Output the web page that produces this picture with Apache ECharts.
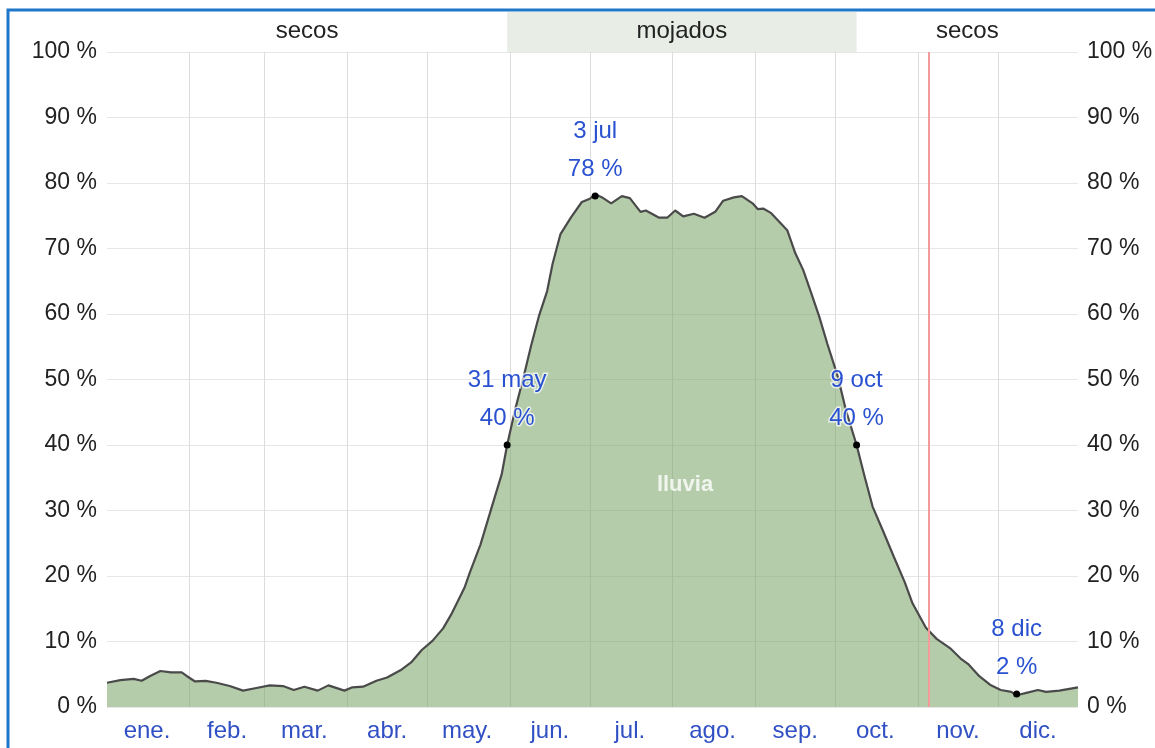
<!DOCTYPE html>
<html>
<head>
<meta charset="utf-8">
<script src="https://cdn.jsdelivr.net/npm/echarts@6/dist/echarts.min.js"></script>
<style>
  html, body { margin: 0; padding: 0; background: #fff; }
  #chart { width: 1155px; height: 748px; }
</style>
</head>
<body>
<div id="chart"></div>
<script>
const FONT = "'Liberation Sans', Arial, sans-serif";

const monthNames = ['ene.', 'feb.', 'mar.', 'abr.', 'may.', 'jun.', 'jul.', 'ago.', 'sep.', 'oct.', 'nov.', 'dic.'];
const monthDays = [31, 28, 31, 30, 31, 30, 31, 31, 30, 31, 30, 31];

// day of year (0 = 1 ene.) and chance of a wet day
const rainDay = [0, 5, 10, 13, 16, 20, 24, 28, 30, 33, 37, 41, 46, 51, 56, 61, 66, 70, 74, 79, 83, 89, 92, 96,
  101, 105, 110, 114, 118, 122, 126, 129, 134, 136, 140, 144, 148, 150, 153, 156, 159, 162, 165, 167, 170,
  174, 178, 181, 183, 186, 189, 193, 196, 200, 202, 207, 210, 213, 216, 220, 224, 228, 231, 235, 238, 242,
  244, 246, 249, 252, 255, 258, 261, 264, 267, 270, 274, 277, 281, 284, 287, 291, 295, 299, 302, 307, 311,
  316, 320, 323, 327, 331, 335, 339, 341, 345, 349, 352, 357, 364];
const rainPct = [3.7, 4.1, 4.3, 4.0, 4.7, 5.5, 5.3, 5.3, 4.7, 3.9, 4.0, 3.7, 3.2, 2.5, 2.9, 3.3, 3.2, 2.6, 3.1, 2.5, 3.3, 2.5, 3.0, 3.1,
  4.0, 4.5, 5.6, 6.8, 8.7, 10.1, 12.0, 14.1, 18.2, 20.5, 24.8, 30.2, 35.6, 40, 45.4, 50.1, 55.2, 59.8, 63.5, 67.6, 72.2,
  74.8, 77.1, 77.6, 78.3, 77.7, 76.9, 78.0, 77.7, 75.6, 75.8, 74.7, 74.7, 75.8, 74.9, 75.3, 74.7, 75.6, 77.3, 77.8, 78.0, 76.9,
  76.0, 76.1, 75.4, 74.1, 72.8, 69.3, 66.7, 63.2, 59.6, 55.5, 50.4, 45.3, 40, 35.2, 30.6, 26.8, 22.9, 19.1, 15.8, 12.1, 10.4,
  9.0, 7.4, 6.5, 4.7, 3.4, 2.6, 2.3, 1.8, 2.2, 2.6, 2.3, 2.5, 3.0];

const seasonNames = ['secos', 'mojados', 'secos'];
const seasonFrom = [0, 150, 281];
const seasonTo = [150, 281, 364];

const noteDay = [150, 183, 281, 341];
const notePct = [40, 78, 40, 2];
const noteText = ['31 may', '3 jul', '9 oct', '8 dic'];

const todayIdx = 308;

// one category per day, used for month grid lines and labels
const dayCats = [];
const monthStart = new Set();
const monthMid = new Set();
monthDays.forEach((n, m) => {
  monthStart.add(dayCats.length);
  monthMid.add(dayCats.length + Math.floor(n / 2));
  for (let d = 1; d <= n; d++) dayCats.push(monthNames[m] + ' ' + d);
});
monthStart.delete(0);

const chart = echarts.init(document.getElementById('chart'));

chart.setOption({
  animation: false,
  textStyle: { fontFamily: FONT },
  graphic: [
    {
      type: 'rect',
      silent: true,
      z: 100,
      shape: { x: 8, y: 10, width: 1300, height: 900 },
      style: { fill: 'none', stroke: '#1f77c9', lineWidth: 3 },
    },
    {
      type: 'text',
      silent: true,
      z: 50,
      style: {
        x: 685, y: 485, text: 'lluvia', align: 'center', verticalAlign: 'middle',
        fill: 'rgba(255,255,255,0.8)', font: 'bold 22px ' + FONT,
      },
    },
  ],
  grid: [
    { left: 107, right: 77, top: 52, bottom: 41, outerBoundsMode: 'none' },
    { left: 107, right: 77, top: 12, height: 40, outerBoundsMode: 'none' },
  ],
  xAxis: [
    {
      type: 'category',
      gridIndex: 0,
      data: dayCats,
      boundaryGap: false,
      axisLine: { show: false },
      axisTick: { show: false },
      axisLabel: {
        interval: (i) => monthMid.has(i),
        formatter: (v) => v.split(' ')[0],
        color: '#3050c4',
        fontSize: 24,
        margin: 12,
      },
      splitLine: {
        show: true,
        interval: (i) => monthStart.has(i),
        lineStyle: { color: '#dcdcdc', width: 1 },
      },
    },
    { type: 'value', gridIndex: 0, min: 0, max: 364, show: false },
    { type: 'value', gridIndex: 1, min: 0, max: 364, show: false },
  ],
  yAxis: [
    {
      type: 'value',
      gridIndex: 0,
      min: 0,
      max: 100,
      interval: 10,
      axisLine: { show: false },
      axisTick: { show: false },
      axisLabel: { formatter: '{value} %', fontSize: 23, color: '#222', margin: 10 },
      splitLine: { lineStyle: { color: '#e6e6e6' } },
    },
    {
      type: 'value',
      gridIndex: 0,
      position: 'right',
      min: 0,
      max: 100,
      interval: 10,
      axisLine: { show: false },
      axisTick: { show: false },
      axisLabel: { formatter: '{value} %', fontSize: 23, color: '#222', margin: 9 },
      splitLine: { show: false },
    },
    { type: 'value', gridIndex: 1, min: 0, max: 1, show: false },
  ],
  series: [
    {
      type: 'custom',
      xAxisIndex: 2,
      yAxisIndex: 2,
      silent: true,
      data: seasonNames.map((s, i) => [seasonFrom[i], seasonTo[i]]),
      renderItem: (params, api) => {
        const a = api.coord([api.value(0), 1]);
        const b = api.coord([api.value(1), 0]);
        const name = seasonNames[params.dataIndex];
        return {
          type: 'group',
          children: [
            {
              type: 'rect',
              shape: { x: a[0], y: a[1], width: b[0] - a[0], height: b[1] - a[1] },
              style: { fill: name === 'mojados' ? '#e8eee6' : 'rgba(0,0,0,0)' },
            },
            {
              type: 'text',
              style: {
                x: (a[0] + b[0]) / 2, y: (a[1] + b[1]) / 2 - 1, text: name,
                align: 'center', verticalAlign: 'middle', fill: '#222', font: '24px ' + FONT,
              },
            },
          ],
        };
      },
    },
    {
      name: 'lluvia',
      type: 'line',
      xAxisIndex: 1,
      yAxisIndex: 0,
      data: rainDay.map((d, i) => [d, rainPct[i]]),
      symbol: 'none',
      lineStyle: { color: '#4a4a4a', width: 2.2 },
      areaStyle: { color: 'rgb(120,163,100)', opacity: 0.55 },
      markLine: {
        silent: true,
        symbol: 'none',
        label: { show: false },
        lineStyle: { color: '#f39b9b', width: 2, type: 'solid', opacity: 1 },
        data: [{ xAxis: todayIdx }],
      },
    },
    {
      type: 'scatter',
      xAxisIndex: 1,
      yAxisIndex: 0,
      symbolSize: 7,
      itemStyle: { color: '#000', opacity: 1 },
      z: 5,
      data: noteDay.map((d, i) => [d, notePct[i]]),
      label: {
        show: true,
        position: 'top',
        distance: 4,
        formatter: (p) => noteText[p.dataIndex] + '\n' + notePct[p.dataIndex] + ' %',
        color: '#2a52d0',
        opacity: 1,
        fontSize: 24,
        lineHeight: 38,
        textBorderColor: 'rgba(255,255,255,0.7)',
        textBorderWidth: 3,
      },
    },
  ],
});
</script>
</body>
</html>
